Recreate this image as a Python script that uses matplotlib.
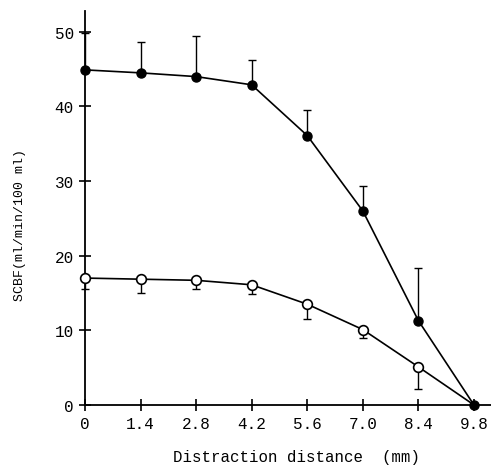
import matplotlib.pyplot as plt
import numpy as np

plt.rcParams['font.family'] = ['Liberation Mono', 'DejaVu Sans Mono']

# Daten
distance = [0, 1.4, 2.8, 4.2, 5.6, 7.0, 8.4, 9.8]
filled_mean = [44.9, 44.5, 44.0, 42.9, 36.1, 26.0, 11.3, 0.0]
filled_err_up = [5.0, 4.2, 5.5, 3.3, 3.4, 3.4, 7.0, 0.0]
open_mean = [17.0, 16.85, 16.7, 16.1, 13.5, 10.1, 5.1, 0.0]
open_err_down = [1.5, 1.85, 1.2, 1.3, 2.0, 1.1, 2.9, 0.0]

xticks = [0, 1.4, 2.8, 4.2, 5.6, 7.0, 8.4, 9.8]
xticklabels = ['0', '1.4', '2.8', '4.2', '5.6', '7.0', '8.4', '9.8']
yticks = [0, 10, 20, 30, 40, 50]

fig = plt.figure(figsize=(4.91, 4.77), dpi=100)
ax = fig.add_axes([0.173, 0.149, 0.827, 0.826])

zeros = np.zeros(len(distance))

# gefuellte Kreise, Fehlerbalken nach oben
ax.errorbar(distance, filled_mean, yerr=[zeros, filled_err_up], fmt='none',
            ecolor='black', elinewidth=1.0, capsize=3, capthick=1.0, zorder=2)
ax.plot(distance, filled_mean, '-o', color='black', linewidth=1.2,
        markersize=6.5, markerfacecolor='black', zorder=3)

# offene Kreise, Fehlerbalken nach unten
ax.errorbar(distance, open_mean, yerr=[open_err_down, zeros], fmt='none',
            ecolor='black', elinewidth=1.0, capsize=3, capthick=1.0, zorder=2)
ax.plot(distance[:-1], open_mean[:-1], '-o', color='black', linewidth=1.2,
        markersize=7, markerfacecolor='white', markeredgewidth=1.2, zorder=3)
ax.plot(distance[-2:], open_mean[-2:], '-', color='black', linewidth=1.2, zorder=2)

ax.set_xlim(0, 10.23)
ax.set_ylim(0, 52.8)
ax.set_xticks(xticks)
ax.set_xticklabels(xticklabels)
ax.set_yticks(yticks)

for side in ['top', 'right']:
    ax.spines[side].set_visible(False)
for side in ['left', 'bottom']:
    ax.spines[side].set_linewidth(1.3)

ax.tick_params(direction='inout', length=8, width=1.2, labelsize=11.5, pad=4)

ax.set_ylabel('SCBF(ml/min/100 ml)', fontsize=9.5, va='center')
ax.yaxis.set_label_coords(-0.16, 0.46)
ax.set_xlabel('Distraction distance  (mm)', fontsize=11.3, va='center')
ax.xaxis.set_label_coords(0.52, -0.13)

for artist in ax.get_children():
    try:
        artist.set_clip_on(False)
    except Exception:
        pass

fig.savefig('out.png', dpi=100, facecolor='white')
